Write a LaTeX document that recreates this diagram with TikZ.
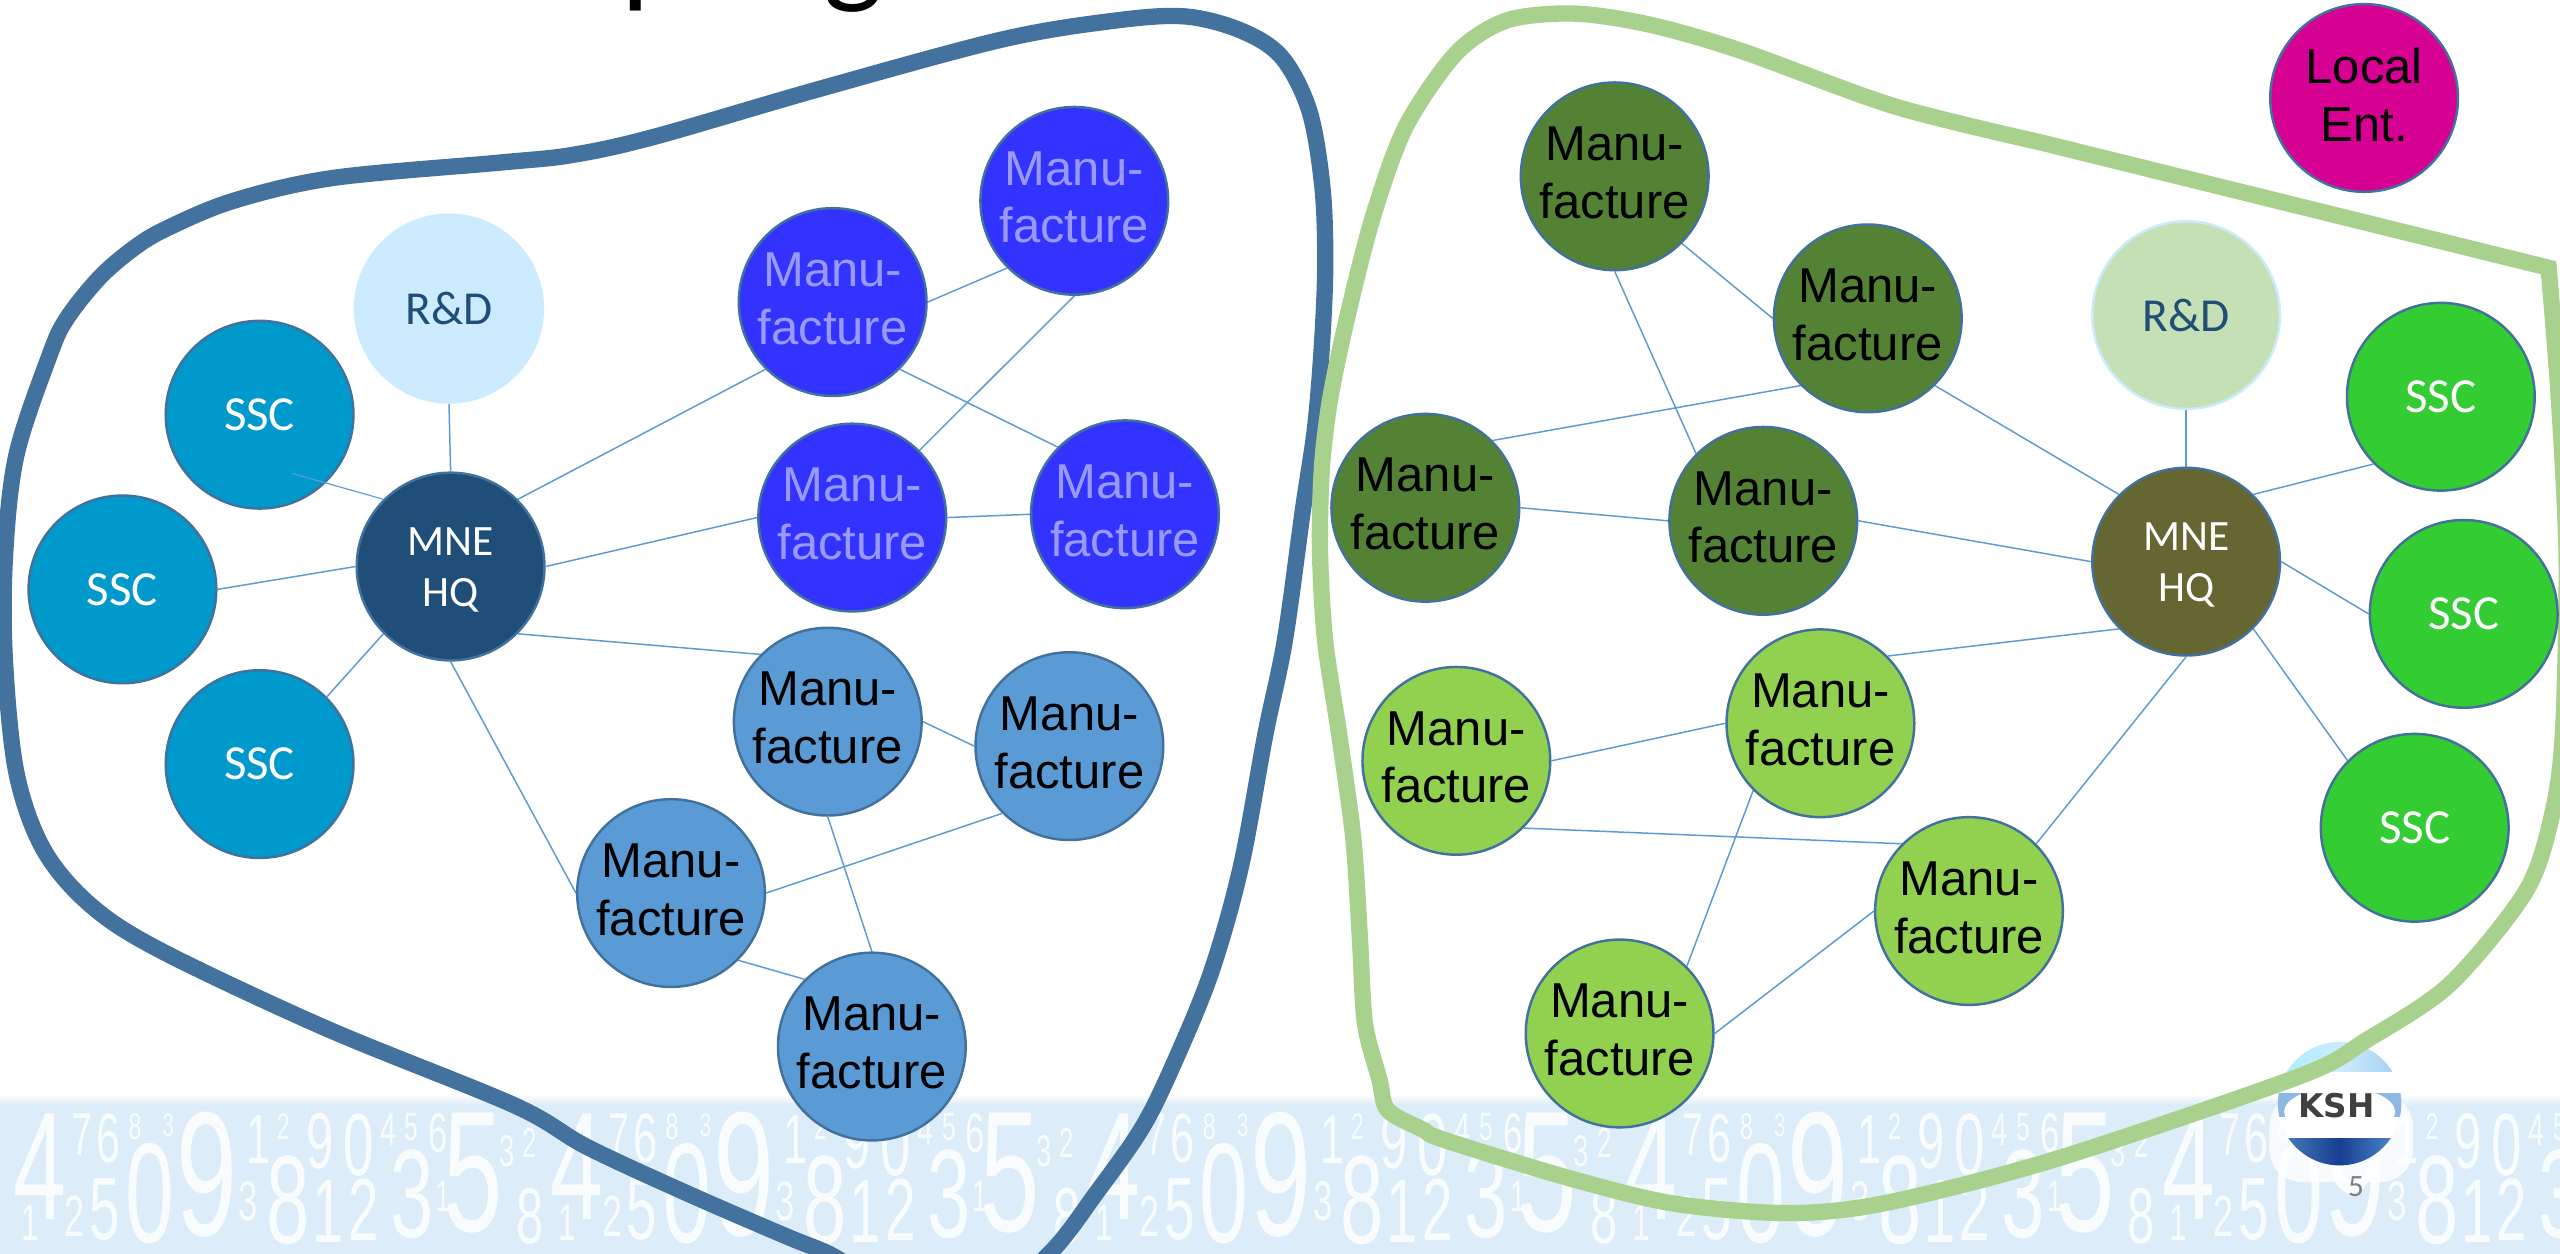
\documentclass[tikz,border=0pt]{standalone}
\usepackage{fontspec}
\setmainfont{Liberation Sans}
\newfontfamily\calibrifont{Carlito}
\newfontfamily\logofont{DejaVu Sans}
\usetikzlibrary{backgrounds}
\pgfdeclarelayer{back}
\pgfdeclarelayer{mid}
\pgfsetlayers{back,mid,main}
\definecolor{blobblue}{HTML}{44729F}
\definecolor{blobgreen}{HTML}{A9D18E}
\definecolor{edgeblue}{HTML}{41719C}
\definecolor{linkblue}{HTML}{5B9BD5}
\definecolor{bandblue}{HTML}{DCECF8}
\definecolor{navy}{HTML}{1F4E79}
\definecolor{rdleft}{HTML}{CCEBFF}
\definecolor{rdright}{HTML}{C5E0B4}
\definecolor{ssccyan}{HTML}{0099CC}
\definecolor{sscgreen}{HTML}{33CC33}
\definecolor{royal}{HTML}{3333FF}
\definecolor{periw}{HTML}{9999FF}
\definecolor{midblue}{HTML}{5B9BD5}
\definecolor{darkgreen}{HTML}{548235}
\definecolor{limeg}{HTML}{92D050}
\definecolor{olive}{HTML}{666633}
\definecolor{magentaent}{HTML}{D60093}
\newcommand{\manu}{Manu-\\facture\rule[-4.5pt]{0pt}{0pt}}
\newcommand{\sscl}{\raisebox{-1pt}{SSC}}
\newcommand{\rdl}{\raisebox{-1pt}{R\&D}}
\newcommand{\hqlabel}{\rule{0pt}{21pt}MNE\\HQ}
\tikzset{
  orb/.style={circle,minimum size=115pt,inner sep=0pt,line width=1.5pt,draw=edgeblue,align=center},
  arialtext/.style={font=\fontsize{30}{35.5}\selectfont},
  calitext/.style={font=\calibrifont\fontsize{30}{32}\selectfont},
  rdtext/.style={font=\calibrifont\fontsize{29}{32}\selectfont,text=navy},
  hqtext/.style={font=\calibrifont\fontsize{26.5}{31.6}\selectfont,text=white},
  link/.style={draw=linkblue,line width=0.9pt},
  blob/.style={line width=10pt,line join=miter},
  digit/.style={inner sep=0pt,text=white,opacity=0.85}
}
\begin{document}
\begin{tikzpicture}[x=1pt,y=-1pt]
\useasboundingbox (0,0) rectangle (1568,768);
\begin{pgfonlayer}{back}
  \fill[white] (0,0) rectangle (1568,768);
  % band of digits
  \fill[bandblue] (0,676) rectangle (1568,768);
  \fill[top color=white,bottom color=bandblue] (0,670) rectangle (1568,677);
  \foreach \k in {0,1,2,3,4}{
    \foreach \zx/\zy/\zh/\d [count=\i] in {
      120/230/330/4, 450/310/305/0, 620/255/380/9, 865/330/270/8, 985/365/195/1,
      1090/360/190/2, 1235/312/270/3, 1420/250/370/5, 245/135/130/7, 325/145/150/6,
      405/110/80/8, 505/105/70/3, 775/150/150/1, 850/110/80/2, 960/155/170/9,
      1075/165/190/0, 1165/120/100/4, 1235/110/85/5, 1315/130/120/6, 90/400/110/1,
      225/378/125/2, 315/360/190/5, 745/335/120/3, 1330/320/95/1, 1520/185/95/3,
      1590/160/90/2, 1590/380/170/8}{
      \pgfmathsetmacro{\fs}{\zh*0.285}
      \pgfmathsetmacro{\px}{\k*329+\zx/4.898}
      \pgfmathsetmacro{\py}{667.6+\zy/4.898}
      \node[digit,name=dig\k-\i,font=\fontsize{\fs}{\fs}\selectfont] at (\px,\py) {\scalebox{0.62}[1]{\d}};
    }
  }
  % logo
  \fill[white,opacity=0.8,rounded corners=20pt] (1390,670) rectangle (1478,724);
  \begin{scope}
    \clip (1433,676) circle (37.8);
    \shade[left color=rdleft!80!cyan,right color=rdleft!60!midblue,middle color=rdleft] (1390,636) rectangle (1476,656.4);
    \fill[white] (1390,656.4) rectangle (1476,669.6);
    \fill[midblue!70!white] (1390,669.6) rectangle (1476,684);
    \fill[white] (1390,684) rectangle (1476,697.2);
    \shade[left color=midblue!90!black,right color=midblue,middle color=navy!80!blue] (1390,697.2) rectangle (1476,716);
  \end{scope}
  \fill[white] (1433,681) ellipse (34 and 15);
  \node[name=ksh,inner sep=0pt,text=black!75,font=\logofont\bfseries\fontsize{20}{20}\selectfont] at (1431,677) {KSH};
  \node[name=pageno,inner sep=0pt,text=black!50,font=\calibrifont\fontsize{19}{19}\selectfont] at (1443,727) {5};
  % title fragments
  \node[name=titlep,anchor=base,inner sep=0pt,font=\calibrifont\fontsize{78}{78}\selectfont] at (401,-6) {p};
  \node[name=titleg,anchor=base,inner sep=0pt,font=\calibrifont\fontsize{78}{78}\selectfont] at (523,-6) {g};
  % blue outline
  \draw[blob,draw=blobblue] plot[smooth cycle,tension=0.55] coordinates {
    (3,342)(10,279)(30.6,217)(41,195)(61,170)(82,152)(102,140)(143,123)(204,109)(306,99.6)(350,95)(400,84)
    (500,55)(612.5,24.5)(680,13)(725,10)(760,18.7)(785,35)(802,68)(810,115)
    (811.7,162.5)(809.6,212.5)(805.4,262.5)(798,312.5)(787,392)(775,450)(760,531)(742,595)
    (720,649)(700,690)(672,730)(642.5,768)(600,800)(540,785)(507,767.6)(482,757.4)(420.6,730.8)
    (359.4,702.4)(315,677)(200,630)(98,582)(55,554)(26.5,520)(10,473)(3,404)};
  % green outline
  \draw[blob,draw=blobgreen] plot[smooth,tension=0.5] coordinates {
    (1249,87)(1160,65)(1066,31)(1010,15)(964,8.3)(923,12.5)(892,32.5)(861,77.6)(841,132.5)(825,195)
    (814.6,245)(809.6,287.5)(808.5,337.5)(811.6,392)(820.7,453)(829,514.5)(833,576)(836,626.8)
    (845,661.5)(850,680)(871.7,692)(884,698)(959,721)(1024,737)(1094,743)(1154,737)(1259,710)
    (1409,659)(1449.6,637)(1500.7,602.7)(1547.6,545)(1564,495)(1570,445)(1572,340)(1567,240)(1561,164)} -- cycle;
\end{pgfonlayer}

% left group
\node[orb,draw=rdleft,fill=rdleft,rdtext] (rdL) at (275,189) {\rdl};
\node[orb,fill=ssccyan,text=white,calitext] (sL1) at (159,254) {\sscl};
\node[orb,fill=ssccyan,text=white,calitext] (sL2) at (75,361) {\sscl};
\node[orb,fill=ssccyan,text=white,calitext] (sL3) at (159,468) {\sscl};
\node[orb,fill=navy,hqtext] (hqL) at (276,347) {\hqlabel};
\node[orb,fill=royal,text=periw,arialtext] (a1) at (510,185) {\manu};
\node[orb,fill=royal,text=periw,arialtext] (a2) at (658,123) {\manu};
\node[orb,fill=royal,text=periw,arialtext] (a3) at (522,317) {\manu};
\node[orb,fill=royal,text=periw,arialtext] (a4) at (689,315) {\manu};
\node[orb,fill=midblue,arialtext] (b1) at (507,442) {\manu};
\node[orb,fill=midblue,arialtext] (b2) at (655,457) {\manu};
\node[orb,fill=midblue,arialtext] (b3) at (411,547) {\manu};
\node[orb,fill=midblue,arialtext] (b4) at (534,641) {\manu};
% right group
\node[orb,fill=darkgreen,arialtext] (c1) at (989,108) {\manu};
\node[orb,fill=darkgreen,arialtext] (c2) at (1144,195) {\manu};
\node[orb,fill=darkgreen,arialtext] (c3) at (873,311) {\manu};
\node[orb,fill=darkgreen,arialtext] (c4) at (1080,319) {\manu};
\node[orb,draw=rdleft,fill=rdright,rdtext] (rdR) at (1339,193) {\rdl};
\node[orb,fill=sscgreen,text=white,calitext] (sR1) at (1495,243) {\sscl};
\node[orb,fill=sscgreen,text=white,calitext] (sR2) at (1509,376) {\sscl};
\node[orb,fill=sscgreen,text=white,calitext] (sR3) at (1479,507) {\sscl};
\node[orb,fill=olive,hqtext] (hqR) at (1339,344) {\hqlabel};
\node[orb,fill=limeg,arialtext] (d1) at (1115,443) {\manu};
\node[orb,fill=limeg,arialtext] (d2) at (892,466) {\manu};
\node[orb,fill=limeg,arialtext] (d3) at (1206,558) {\manu};
\node[orb,fill=limeg,arialtext] (d4) at (992,633) {\manu};
\node[orb,fill=magentaent,arialtext] (ent) at (1448,60) {Local\\Ent.\rule[-4.5pt]{0pt}{0pt}};

\coordinate (sL1in) at (179,290);
\draw[link,line width=0.7pt] (sL1in) -- (hqL.135);

\begin{pgfonlayer}{mid}
  \draw[link] (rdL.-90) -- (hqL.90);
  \draw[link] (sL2.0) -- (hqL.180);
  \draw[link] (sL3.45) -- (hqL.225);
  \draw[link] (hqL.45) -- (a1.225);
  \draw[link] (hqL.0) -- (a3.180);
  \draw[link] (hqL.-45) -- (b1.135);
  \draw[link] (hqL.-90) -- (b3.180);
  \draw[link] (a1.0) -- (a2.225);
  \draw[link] (a1.-45) -- (a4.135);
  \draw[link] (a2.-90) -- (a3.45);
  \draw[link] (a3.0) -- (a4.180);
  \draw[link] (b1.0) -- (b2.180);
  \draw[link] (b1.-90) -- (b4.90);
  \draw[link] (b3.0) -- (b2.225);
  \draw[link] (b3.-45) -- (b4.135);
  \draw[link] (c1.-45) -- (c2.180);
  \draw[link] (c1.-90) -- (c4.135);
  \draw[link] (c3.45) -- (c2.225);
  \draw[link] (c3.0) -- (c4.180);
  \draw[link] (c4.0) -- (hqR.180);
  \draw[link] (c2.-45) -- (hqR.135);
  \draw[link] (rdR.-90) -- (hqR.90);
  \draw[link] (hqR.45) -- (sR1.225);
  \draw[link] (hqR.0) -- (sR2.180);
  \draw[link] (hqR.-45) -- (sR3.135);
  \draw[link] (d1.45) -- (hqR.225);
  \draw[link] (d2.0) -- (d1.180);
  \draw[link] (d2.-45) -- (d3.135);
  \draw[link] (d3.45) -- (hqR.-90);
  \draw[link] (d1.225) -- (d4.45);
  \draw[link] (d3.180) -- (d4.0);
\end{pgfonlayer}
\end{tikzpicture}
\end{document}
